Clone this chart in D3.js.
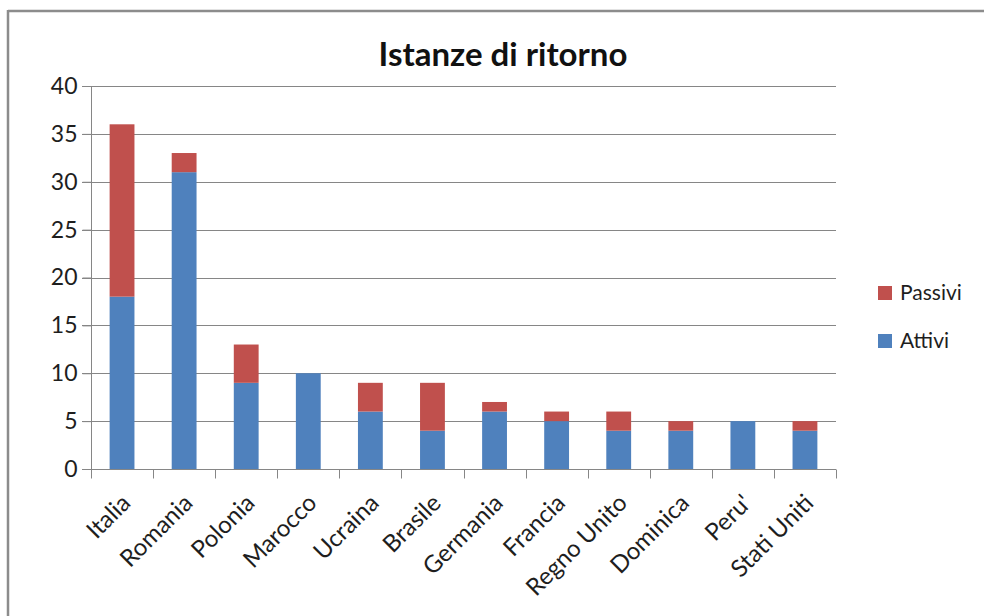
<!DOCTYPE html>
<html><head><meta charset="utf-8">
<script src="https://cdn.jsdelivr.net/npm/d3@7"></script>
<style>
html,body{margin:0;padding:0;background:#fff;}
svg{display:block;}
text{font-family:Lato,"Open Sans",sans-serif;}
</style></head>
<body>
<svg id="c" width="984" height="616"></svg>
<script>
const categories = ["Italia","Romania","Polonia","Marocco","Ucraina","Brasile","Germania","Francia","Regno Unito","Dominica","Peru'","Stati Uniti"];
const attivi  = [18,31,9,10,6,4,6,5,4,4,5,4];
const passivi = [18,2,4,0,3,5,1,1,2,1,0,1];
const seriesNames = ["Attivi","Passivi"];
const colors = ["#4F81BD","#C0504D"];
const yTicks = [0,5,10,15,20,25,30,35,40];
const title = "Istanze di ritorno";

const svg = d3.select("#c");
const W = 984, H = 616;
const pLeft = 91, pRight = 836, pTop = 86, pBottom = 469;

// outer frame
svg.append("line").attr("x1",8).attr("x2",W).attr("y1",11).attr("y2",11).attr("stroke","#8c8c8c").attr("stroke-width",2.5);
svg.append("line").attr("x1",8).attr("x2",8).attr("y1",10).attr("y2",H).attr("stroke","#8c8c8c").attr("stroke-width",2.5);

const x = d3.scaleBand().domain(categories).range([pLeft,pRight]).padding(0);
const y = d3.scaleLinear().domain([0,40]).range([pBottom,pTop]);

// gridlines
svg.append("g").selectAll("line").data(yTicks.filter(d=>d>0)).join("line")
  .attr("x1",pLeft-9).attr("x2",pRight).attr("y1",d=>Math.round(y(d))+0.5).attr("y2",d=>Math.round(y(d))+0.5)
  .attr("stroke","#868686").attr("stroke-width",1);

// y axis
const yAxis = d3.axisLeft(y).tickValues(yTicks).tickSize(9).tickPadding(5);
const gy = svg.append("g").attr("transform",`translate(${pLeft+0.5},0)`).call(yAxis);
gy.select(".domain").attr("stroke","#868686").attr("d",`M0,${pTop}V${pBottom}`);
gy.selectAll(".tick line").attr("stroke","#868686");
gy.selectAll(".tick text").attr("font-size",23).attr("fill","#1e1e1e").attr("font-family","Lato");

// stacked bars
const data = categories.map((c,i)=>({cat:c, Attivi:attivi[i], Passivi:passivi[i]}));
const stack = d3.stack().keys(seriesNames)(data);
const bw = x.bandwidth()/2.5;
svg.append("g").selectAll("g").data(stack).join("g")
  .attr("fill",(d,i)=>colors[i])
  .selectAll("rect").data(d=>d).join("rect")
  .attr("x",d=>x(d.data.cat)+(x.bandwidth()-bw)/2)
  .attr("width",bw)
  .attr("y",d=>y(d[1]))
  .attr("height",d=>y(d[0])-y(d[1]));

// x axis
const gx = svg.append("g").attr("transform",`translate(0,${pBottom+0.5})`);
gx.append("line").attr("x1",pLeft-9).attr("x2",pRight).attr("stroke","#868686");
const bounds = categories.map(c=>x(c)).concat([pRight]);
gx.selectAll("line.t").data(bounds).join("line").attr("class","t")
  .attr("x1",d=>Math.round(d)+0.5).attr("x2",d=>Math.round(d)+0.5).attr("y1",0).attr("y2",9).attr("stroke","#868686");
gx.selectAll("text").data(categories).join("text")
  .attr("transform",d=>`translate(${x(d)+x.bandwidth()/2+4},${29}) rotate(-45)`)
  .attr("text-anchor","end").attr("dy","0.35em")
  .attr("font-size",24).attr("fill","#1e1e1e")
  .text(d=>d);

// title
svg.append("text").attr("x",503).attr("y",66).attr("text-anchor","middle")
  .attr("font-size",33).attr("font-weight","bold").attr("fill","#111").text(title);

// legend
const legendItems = [{n:"Passivi",c:colors[1]},{n:"Attivi",c:colors[0]}];
const lg = svg.append("g").selectAll("g").data(legendItems).join("g")
  .attr("transform",(d,i)=>`translate(878,${286+i*48})`);
lg.append("rect").attr("width",14).attr("height",14).attr("fill",d=>d.c);
lg.append("text").attr("x",22).attr("y",14).attr("font-size",21).attr("fill","#1e1e1e").text(d=>d.n);
</script>
</body></html>
